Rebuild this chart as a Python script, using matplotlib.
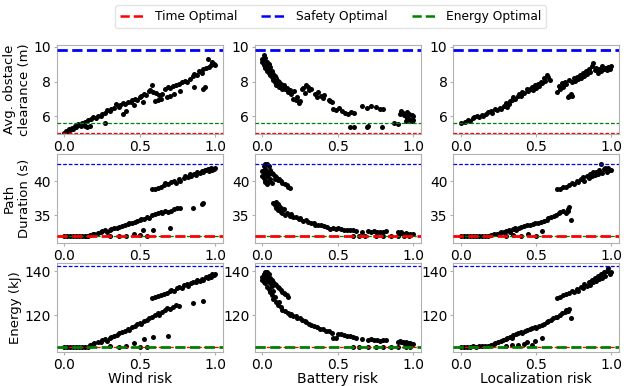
import matplotlib
matplotlib.use("Agg")
import matplotlib.pyplot as plt
from matplotlib.lines import Line2D

# risk (x) vs metric (y), one list per panel
clear_wind = [(0.00,5.05),(0.01,5.15),(0.02,5.10),(0.03,5.25),(0.04,5.20),(0.05,5.35),(0.06,5.30),(0.07,5.45),
              (0.08,5.40),(0.09,5.55),(0.10,5.50),(0.11,5.45),(0.12,5.60),(0.13,5.55),(0.14,5.70),(0.15,5.40),
              (0.16,5.80),(0.18,5.85),(0.19,5.95),(0.21,5.90),(0.22,6.00),(0.24,6.05),(0.25,6.15),(0.27,6.20),
              (0.28,6.35),(0.30,6.30),(0.31,6.45),(0.33,6.50),(0.34,6.70),(0.36,6.55),(0.37,6.65),(0.39,6.75),
              (0.40,6.70),(0.42,6.80),(0.44,6.85),(0.45,6.95),(0.47,7.00),(0.48,6.95),(0.50,7.10),(0.51,7.20),
              (0.53,7.30),(0.54,7.25),(0.56,7.45),(0.57,7.50),(0.58,7.80),(0.59,7.40),(0.61,7.35),(0.63,7.25),
              (0.65,7.30),(0.67,7.55),(0.69,7.70),(0.70,7.65),(0.72,7.75),(0.74,7.80),(0.76,7.85),(0.78,7.95),
              (0.80,8.05),(0.81,8.00),(0.83,8.15),(0.85,8.30),(0.86,8.45),(0.88,8.35),(0.89,8.60),(0.91,8.50),
              (0.92,8.70),(0.94,8.80),(0.95,9.30),(0.96,8.85),(0.97,8.95),(0.98,9.10),(0.99,9.00),(1.00,8.95),
              (0.14,5.45),(0.17,5.45),(0.27,5.65),(0.39,6.15),(0.41,6.30),(0.46,6.65),(0.52,6.85),(0.60,6.90),
              (0.62,6.95),(0.64,7.00),(0.68,7.10),(0.70,7.15),(0.73,7.30),(0.77,7.45),(0.86,7.70),(0.92,7.60),
              (0.93,7.70)]
clear_batt = [(0.00,9.30),(0.00,9.10),(0.01,9.50),(0.01,9.20),(0.01,8.95),(0.02,9.35),(0.02,9.05),(0.02,8.80),
              (0.03,9.15),(0.03,8.90),(0.03,8.60),(0.04,9.00),(0.04,8.70),(0.04,8.50),(0.05,8.85),(0.05,8.40),
              (0.06,8.60),(0.06,8.25),(0.07,8.45),(0.07,8.10),(0.08,8.30),(0.08,7.95),(0.09,8.20),(0.09,7.80),
              (0.10,8.05),(0.10,7.90),(0.11,7.95),(0.11,7.70),(0.12,7.85),(0.13,7.75),(0.13,7.60),(0.14,7.80),
              (0.15,7.55),(0.16,7.65),(0.17,7.40),(0.18,7.50),(0.19,7.30),(0.20,7.00),(0.21,7.45),(0.22,6.95),
              (0.23,7.10),(0.24,6.75),(0.25,6.90),(0.26,7.55),(0.27,7.65),(0.28,7.35),(0.29,7.80),(0.30,7.70),
              (0.31,7.50),(0.32,7.60),(0.35,7.30),(0.36,7.10),(0.37,7.40),(0.39,7.20),(0.40,7.05),(0.41,7.25),
              (0.44,6.95),(0.45,6.90),(0.46,6.85),(0.47,6.40),(0.49,6.35),(0.51,6.50),(0.53,6.30),(0.55,6.20),
              (0.57,6.15),(0.59,6.25),(0.61,6.20),(0.58,5.40),(0.61,5.40),(0.69,5.40),(0.70,5.45),(0.66,6.60),
              (0.69,6.50),(0.72,6.60),(0.75,6.55),(0.78,6.45),(0.80,6.40),(0.79,5.40),(0.87,5.60),(0.90,5.55),
              (0.91,6.15),(0.92,6.30),(0.93,6.20),(0.94,6.10),(0.95,6.00),(0.96,5.90),(0.96,6.25),(0.97,5.85),
              (0.98,5.80),(0.99,5.75),(1.00,5.80),(1.00,6.00),(0.99,6.10),(0.95,5.75),(0.97,6.15)]
clear_loc = [(0.00,5.60),(0.03,5.70),(0.05,5.80),(0.06,5.75),(0.08,5.90),(0.09,5.95),(0.11,6.00),(0.12,5.95),
             (0.14,6.10),(0.15,6.05),(0.17,6.15),(0.18,6.25),(0.20,6.30),(0.21,6.20),(0.23,6.40),(0.24,6.35),
             (0.26,6.50),(0.27,6.45),(0.29,6.60),(0.30,6.75),(0.31,6.55),(0.32,6.70),(0.33,6.90),(0.34,6.95),
             (0.35,7.10),(0.36,7.00),(0.38,7.20),(0.39,7.30),(0.40,7.15),(0.41,7.40),(0.42,7.35),(0.44,7.55),
             (0.45,7.45),(0.46,7.60),(0.47,7.70),(0.48,7.50),(0.49,7.80),(0.50,7.65),(0.51,7.85),(0.52,7.75),
             (0.53,8.00),(0.54,7.90),(0.55,8.20),(0.56,8.05),(0.57,8.40),(0.58,8.25),(0.59,8.10),(0.64,7.40),
             (0.65,7.75),(0.66,7.60),(0.67,7.90),(0.68,7.70),(0.69,8.00),(0.70,7.85),(0.71,7.10),(0.72,7.20),
             (0.73,7.30),(0.74,7.15),(0.72,8.10),(0.74,7.95),(0.75,8.20),(0.76,8.05),(0.77,8.25),(0.78,8.15),
             (0.79,8.35),(0.80,8.20),(0.81,8.50),(0.82,8.30),(0.83,8.60),(0.84,8.45),(0.85,8.70),(0.86,8.55),
             (0.87,8.90),(0.88,9.05),(0.89,8.65),(0.90,8.80),(0.91,8.50),(0.92,8.75),(0.93,8.60),(0.94,8.90),
             (0.95,8.70),(0.96,8.80),(0.97,8.65),(0.98,8.85),(0.99,8.75),(1.00,8.90)]

dur_wind = [(0.00,31.9),(0.02,31.9),(0.04,31.9),(0.06,31.9),(0.08,31.95),(0.10,31.9),(0.12,31.9),(0.14,32.0),
            (0.16,31.9),(0.15,32.0),(0.17,32.1),(0.19,32.2),(0.20,32.3),(0.22,32.4),(0.24,32.5),(0.25,32.7),
            (0.27,32.8),(0.28,32.6),(0.30,32.9),(0.31,33.0),(0.33,33.1),(0.35,33.2),(0.36,33.3),(0.38,33.4),
            (0.40,33.5),(0.42,33.7),(0.43,33.8),(0.45,33.9),(0.47,34.0),(0.48,34.2),(0.50,34.3),(0.51,34.4),
            (0.53,34.5),(0.55,34.7),(0.56,34.6),(0.58,35.0),(0.60,35.2),(0.62,35.4),(0.64,35.5),(0.65,35.3),
            (0.67,35.6),(0.69,35.5),(0.71,35.7),(0.73,35.9),(0.75,36.0),(0.77,36.1),(0.85,36.1),(0.92,36.8),
            (0.91,36.6),(0.58,38.8),(0.60,38.9),(0.62,39.0),(0.64,39.2),(0.66,39.4),(0.67,39.7),(0.69,39.6),
            (0.71,39.9),(0.73,40.1),(0.74,39.8),(0.76,40.3),(0.77,40.0),(0.79,40.5),(0.80,40.8),(0.82,40.6),
            (0.83,41.0),(0.84,40.7),(0.86,41.1),(0.87,40.9),(0.88,41.3),(0.90,41.2),(0.91,41.5),(0.92,41.4),
            (0.93,41.7),(0.94,41.6),(0.95,41.8),(0.96,41.5),(0.97,41.9),(0.98,41.7),(0.99,41.8),(1.00,41.9),
            (0.30,31.95),(0.36,32.0),(0.41,32.0),(0.46,32.2),(0.50,32.1),(0.52,32.9),(0.59,32.9),(0.70,33.2),
            (0.55,31.95)]
dur_batt = [(0.00,40.8),(0.00,41.5),(0.01,42.2),(0.01,40.5),(0.01,41.0),(0.02,42.6),(0.02,41.8),(0.02,40.2),
            (0.02,39.9),(0.03,42.5),(0.03,41.3),(0.03,40.7),(0.03,39.6),(0.04,42.3),(0.04,41.1),(0.04,40.0),
            (0.05,41.6),(0.05,40.4),(0.06,41.2),(0.06,39.8),(0.07,41.0),(0.08,40.8),(0.08,40.4),(0.09,40.6),
            (0.10,40.2),(0.11,40.3),(0.12,40.0),(0.13,39.7),(0.15,39.6),(0.16,39.4),(0.17,39.2),(0.18,39.0),
            (0.07,36.8),(0.08,36.5),(0.09,36.9),(0.09,36.0),(0.10,36.6),(0.10,35.8),(0.11,36.3),(0.12,35.5),
            (0.12,36.1),(0.13,35.3),(0.14,35.9),(0.15,35.0),(0.16,35.4),(0.18,34.9),(0.19,35.2),(0.20,34.7),
            (0.22,34.8),(0.24,34.4),(0.25,34.6),(0.27,34.2),(0.29,34.3),(0.30,34.0),(0.32,33.8),(0.34,33.9),
            (0.35,33.6),(0.37,33.5),(0.39,33.6),(0.41,33.4),(0.43,33.3),(0.45,33.0),(0.47,33.2),(0.49,33.0),
            (0.50,33.1),(0.52,33.0),(0.54,32.9),(0.56,32.8),(0.58,32.9),(0.60,32.8),(0.62,32.7),(0.66,32.6),
            (0.70,32.7),(0.72,32.6),(0.74,32.7),(0.76,32.6),(0.78,32.5),(0.80,32.6),(0.82,32.7),(0.90,32.5),
            (0.91,32.4),(0.92,32.5),(0.93,32.3),(0.95,32.4),(0.96,32.3),(0.98,32.2),(1.00,32.2),(0.60,31.9),
            (0.64,31.95),(0.68,31.9),(0.75,31.9),(0.80,31.95),(0.85,31.9),(0.90,31.9),(0.94,31.95),(0.97,31.9)]
dur_loc = [(0.00,31.9),(0.02,31.9),(0.04,31.9),(0.06,31.95),(0.08,31.9),(0.10,31.9),(0.12,32.0),(0.14,31.9),
           (0.16,32.0),(0.18,32.0),(0.20,32.1),(0.22,32.2),(0.24,32.3),(0.26,32.4),(0.27,32.5),(0.29,32.6),
           (0.30,32.7),(0.32,32.8),(0.33,32.6),(0.35,33.0),(0.36,33.2),(0.37,32.9),(0.39,33.1),(0.40,33.3),
           (0.42,33.4),(0.44,33.5),(0.46,33.6),(0.48,33.7),(0.49,33.9),(0.51,33.8),(0.53,34.0),(0.55,34.2),
           (0.57,34.3),(0.58,34.6),(0.60,34.7),(0.62,34.9),(0.63,35.1),(0.65,35.3),(0.66,35.5),(0.68,35.6),
           (0.70,35.4),(0.71,35.9),(0.72,36.2),(0.71,35.7),(0.30,32.0),(0.35,32.1),(0.40,32.0),(0.45,32.2),
           (0.54,32.7),(0.73,34.3),(0.50,32.0),(0.64,38.8),(0.66,38.9),(0.68,39.1),(0.70,39.2),(0.72,39.4),
           (0.74,39.8),(0.75,39.6),(0.77,40.1),(0.78,39.9),(0.80,40.3),(0.81,40.6),(0.82,40.1),(0.84,40.8),
           (0.85,40.5),(0.86,41.1),(0.87,40.7),(0.88,41.4),(0.89,40.9),(0.90,41.3),(0.91,41.0),(0.92,41.6),
           (0.93,42.5),(0.94,41.2),(0.95,41.8),(0.96,42.0),(0.97,41.4),(0.98,41.9),(0.99,41.6),(1.00,41.7)]

energy_wind = [(0.00,105.5),(0.02,105.6),(0.04,105.5),(0.06,105.6),(0.08,105.5),(0.10,105.6),(0.12,105.5),
               (0.14,105.7),(0.16,105.6),(0.17,106.2),(0.19,106.8),(0.20,107.3),(0.22,107.6),(0.24,108.0),
               (0.25,108.8),(0.27,109.0),(0.28,108.4),(0.30,109.7),(0.31,110.2),(0.33,110.6),(0.35,111.1),
               (0.36,111.8),(0.38,112.3),(0.40,112.9),(0.42,113.5),(0.43,113.2),(0.45,114.5),(0.47,115.2),
               (0.48,115.8),(0.50,116.4),(0.51,116.0),(0.53,117.2),(0.55,118.0),(0.56,118.5),(0.58,119.2),
               (0.60,120.0),(0.62,120.8),(0.63,120.2),(0.65,121.5),(0.67,122.6),(0.68,123.4),(0.70,122.8),
               (0.72,123.9),(0.74,124.5),(0.76,124.2),(0.85,125.7),(0.92,126.5),(0.58,128.0),(0.60,128.3),
               (0.62,128.8),(0.64,129.2),(0.66,129.8),(0.68,130.3),(0.70,130.9),(0.71,131.5),(0.73,131.2),
               (0.75,132.4),(0.76,133.0),(0.78,132.6),(0.79,133.6),(0.81,134.1),(0.82,133.5),(0.84,134.6),
               (0.85,135.2),(0.87,135.0),(0.88,135.9),(0.90,135.7),(0.91,136.6),(0.92,136.2),(0.94,137.4),
               (0.95,137.0),(0.96,138.1),(0.97,137.6),(0.98,138.8),(0.99,138.2),(1.00,138.6),(0.30,105.8),
               (0.36,105.6),(0.41,105.8),(0.46,107.3),(0.50,105.7),(0.53,109.1),(0.59,110.0),(0.69,110.6),
               (0.55,105.6)]
energy_batt = [(0.00,136.0),(0.00,137.5),(0.01,139.0),(0.01,135.2),(0.01,138.2),(0.02,139.8),(0.02,136.8),
               (0.02,134.5),(0.03,139.5),(0.03,137.9),(0.03,135.8),(0.03,133.0),(0.04,138.6),(0.04,136.4),
               (0.04,132.0),(0.05,137.2),(0.05,134.8),(0.05,130.5),(0.06,136.0),(0.06,133.5),(0.06,129.0),
               (0.07,135.1),(0.07,131.2),(0.07,127.6),(0.08,134.3),(0.08,128.4),(0.09,133.6),(0.09,126.2),
               (0.10,133.0),(0.10,124.5),(0.11,132.2),(0.11,125.8),(0.12,131.5),(0.12,123.6),(0.13,130.8),
               (0.13,122.4),(0.14,130.2),(0.15,129.6),(0.15,121.8),(0.16,129.0),(0.17,128.5),(0.17,120.9),
               (0.18,120.2),(0.19,120.6),(0.20,119.8),(0.22,119.5),(0.23,118.9),(0.25,118.6),(0.26,117.9),
               (0.28,117.5),(0.29,116.8),(0.31,116.1),(0.32,115.7),(0.34,115.0),(0.36,114.6),(0.38,113.9),
               (0.40,113.5),(0.42,112.9),(0.44,112.6),(0.46,112.1),(0.47,109.6),(0.49,109.4),(0.50,111.6),
               (0.52,111.3),(0.54,110.9),(0.56,110.6),(0.58,110.3),(0.60,110.0),(0.62,109.7),(0.66,109.2),
               (0.70,108.8),(0.72,109.0),(0.74,108.7),(0.76,108.5),(0.78,108.4),(0.80,108.6),(0.82,108.9),
               (0.90,107.9),(0.91,108.2),(0.92,107.6),(0.93,107.8),(0.94,107.4),(0.95,107.6),(0.96,107.2),
               (0.97,107.1),(0.98,107.3),(0.99,106.9),(1.00,106.8),(0.60,105.5),(0.64,105.6),(0.70,105.5),
               (0.75,105.6),(0.80,105.5),(0.85,105.6),(0.90,105.5),(0.95,105.6),(0.98,105.5)]
energy_loc = [(0.00,105.6),(0.02,105.7),(0.04,105.6),(0.06,105.7),(0.08,105.8),(0.10,105.7),(0.12,105.8),
              (0.14,105.9),(0.16,105.8),(0.18,106.0),(0.20,106.5),(0.22,107.0),(0.23,107.5),(0.25,107.9),
              (0.27,108.4),(0.28,108.9),(0.30,109.3),(0.31,109.8),(0.33,110.2),(0.34,109.6),(0.35,110.8),
              (0.37,111.3),(0.38,111.9),(0.40,112.3),(0.41,112.0),(0.43,112.8),(0.44,113.3),(0.46,113.7),
              (0.47,114.2),(0.49,114.6),(0.50,114.2),(0.52,115.1),(0.54,115.6),(0.55,116.2),(0.57,116.8),
              (0.58,117.4),(0.60,118.0),(0.61,118.6),(0.63,119.3),(0.64,119.0),(0.66,120.2),(0.67,121.0),
              (0.69,121.6),(0.70,122.3),(0.71,121.8),(0.72,122.8),(0.30,106.0),(0.34,106.4),(0.38,106.2),
              (0.42,107.0),(0.44,107.7),(0.47,106.5),(0.49,108.3),(0.54,109.5),(0.73,118.6),(0.64,128.0),
              (0.66,128.4),(0.68,129.1),(0.70,129.6),(0.72,130.3),(0.74,131.1),(0.75,130.4),(0.77,132.0),
              (0.78,131.2),(0.80,133.0),(0.81,132.2),(0.82,134.1),(0.84,133.2),(0.85,135.0),(0.86,134.0),
              (0.87,136.2),(0.88,135.1),(0.89,137.0),(0.90,135.8),(0.91,137.8),(0.92,136.5),(0.93,138.6),
              (0.94,137.1),(0.95,139.6),(0.96,138.0),(0.97,140.2),(0.98,141.5),(0.99,138.8),(1.00,139.6)]

# reference paths: time, safety, energy optimal
optimal_clearance = [5.05, 9.8, 5.6]
optimal_duration = [31.9, 42.6, 31.95]
optimal_energy = [105.6, 142.3, 105.5]

risk_labels = ["Wind risk", "Battery risk", "Localization risk"]
metric_labels = ["Avg. obstacle\nclearance (m)", "Path\nDuration (s)", "Energy (kJ)"]
legend_labels = ["Time Optimal", "Safety Optimal", "Energy Optimal"]
colors = ["red", "blue", "green"]

panels = [[clear_wind, clear_batt, clear_loc],
          [dur_wind, dur_batt, dur_loc],
          [energy_wind, energy_batt, energy_loc]]
optimals = [optimal_clearance, optimal_duration, optimal_energy]
thick_idx = [1, 0, 2]  # which reference the row's metric is optimal for
ylims = [(4.97, 10.09), (30.9, 44.0), (103.2, 143.9)]
yticks = [[6, 8, 10], [35, 40], [120, 140]]


def main():
    fig, axes = plt.subplots(3, 3, figsize=(6.24, 3.86), dpi=100)
    plt.subplots_adjust(left=0.091, right=0.992, bottom=0.088, top=0.883, wspace=0.194, hspace=0.22)

    for r in range(3):
        for c in range(3):
            ax = axes[r, c]
            xs, ys = zip(*panels[r][c])
            ax.scatter(xs, ys, s=13, color="black", linewidths=0, zorder=2)
            for k in range(3):
                if k == thick_idx[r]:
                    ax.axhline(optimals[r][k], color=colors[k], ls="--", lw=2.0, zorder=4)
                else:
                    ax.axhline(optimals[r][k], color=colors[k], ls=(0, (3, 1.5)), lw=0.9, zorder=3)
            ax.set_xlim(-0.05, 1.05)
            ax.set_ylim(*ylims[r])
            ax.set_xticks([0.0, 0.5, 1.0])
            ax.set_yticks(yticks[r])
            ax.tick_params(labelsize=10, length=2, color="#b0b0b0", pad=2)
            for sp in ax.spines.values():
                sp.set_color("#b0b0b0")
            if c == 0:
                ax.set_ylabel(metric_labels[r], fontsize=9.5, labelpad=2)
            if r == 2:
                ax.set_xlabel(risk_labels[c], fontsize=10, labelpad=0)

    handles = [Line2D([0], [0], color=colors[k], ls="--", lw=1.8) for k in range(3)]
    fig.legend(handles, legend_labels, loc="center", bbox_to_anchor=(0.53, 0.957), ncol=3,
               fontsize=8.8, frameon=True, edgecolor="#dddddd")

    fig.savefig("out.png", dpi=100)


if __name__ == "__main__":
    main()
